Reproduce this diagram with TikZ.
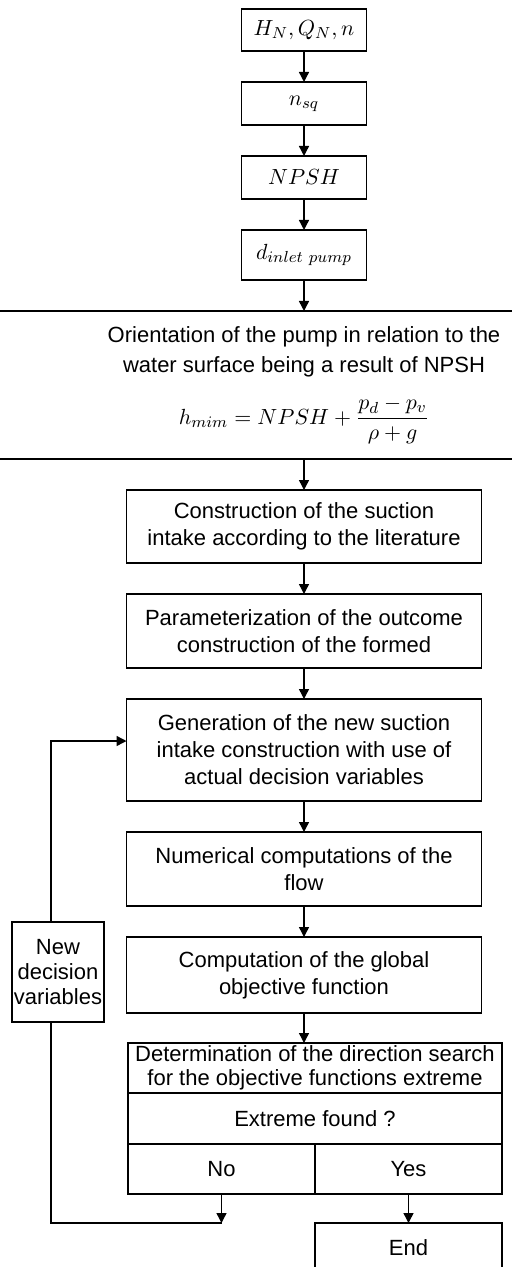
\documentclass[tikz,border=0pt]{standalone}
\usepackage{amsmath}
\usepackage{fontspec}
\setmainfont{Liberation Sans}
\usetikzlibrary{arrows.meta,calc,positioning}

\begin{document}
\begin{tikzpicture}[>={Triangle[length=5pt,width=5pt]},font=\fontsize{11}{13.5}\selectfont,node distance=15.5pt,
    blk/.style={draw,line width=0.7pt,align=center,inner sep=1pt,outer sep=0pt},
    small/.style={blk,minimum width=62.5pt},
    wide/.style={blk,minimum width=177.5pt}]
  \useasboundingbox (0,0) rectangle (256pt,-633.5pt);
  % main column
  \node[small,minimum height=21pt] (hq) at (152pt,-15pt) {$H_N, Q_N, n$};
  \node[small,minimum height=21.5pt,below=of hq] (nsq) {$n_{sq}$};
  \node[small,minimum height=21.5pt,below=of nsq] (npsh) {$NPSH$};
  \node[small,minimum height=25pt,below=of npsh] (din) {$d_{inlet\ pump}$};
  \node[blk,minimum width=330pt,minimum height=74pt,font=\fontsize{11}{15}\selectfont,below=of din] (orient)
    {Orientation of the pump in relation to the\\water surface being a result of NPSH\\[9pt]
     $h_{mim} = NPSH + \dfrac{p_d - p_v}{\rho + g}$};
  \node[wide,minimum height=36.5pt,below=of orient] (intake) {Construction of the suction\\intake according to the literature};
  \node[wide,minimum height=37pt,below=of intake] (param) {Parameterization of the outcome\\construction of the formed};
  \node[wide,minimum height=51pt,below=of param] (gen) {Generation of the new suction\\intake construction with use of\\actual decision variables};
  \node[wide,minimum height=37pt,below=of gen] (flow) {Numerical computations of the\\flow};
  \node[wide,minimum height=38pt,below=of flow] (goal) {Computation of the global\\objective function};
  % decision block
  \node[blk,minimum width=187pt,minimum height=25pt,font=\fontsize{11}{12}\selectfont,below=15pt of goal,xshift=5.5pt] (dir)
    {Determination of the direction search\\for the objective functions extreme};
  \node[blk,minimum width=187pt,minimum height=25.5pt,below=0pt of dir] (ext) {Extreme found ?};
  \node[blk,minimum width=93.5pt,minimum height=25pt,anchor=north west] (no) at (ext.south west) {No};
  \node[blk,minimum width=93.5pt,minimum height=25pt,anchor=north east] (yes) at (ext.south east) {Yes};
  \node[blk,minimum width=93.5pt,minimum height=25pt,below=14.5pt of yes] (fin) {End};
  % loop back
  \node[blk,minimum width=45pt,minimum height=50pt,font=\fontsize{11}{12.5}\selectfont] (newvar) at (29pt,-486pt) {New\\decision\\variables};
  \coordinate[below=14.5pt of no] (noturn);
  \coordinate (lx) at (25.5pt,0);

  \foreach \a/\b in {hq/nsq,nsq/npsh,npsh/din,din/orient,orient/intake,intake/param,param/gen,gen/flow,flow/goal}
    \draw[->,line width=0.7pt] (\a) -- (\b);
  \draw[->,line width=0.7pt] (goal) -- (goal.south |- dir.north);
  \draw[->,line width=0.7pt] (no) -- (noturn);
  \draw[->,line width=0.7pt] (yes) -- (fin);
  \draw[line width=0.7pt] (noturn) -- (noturn -| lx) -- (newvar.south -| lx);
  \draw[->,line width=0.7pt] (newvar.north -| lx) |- ([yshift=4.5pt]gen.west);
\end{tikzpicture}
\end{document}
